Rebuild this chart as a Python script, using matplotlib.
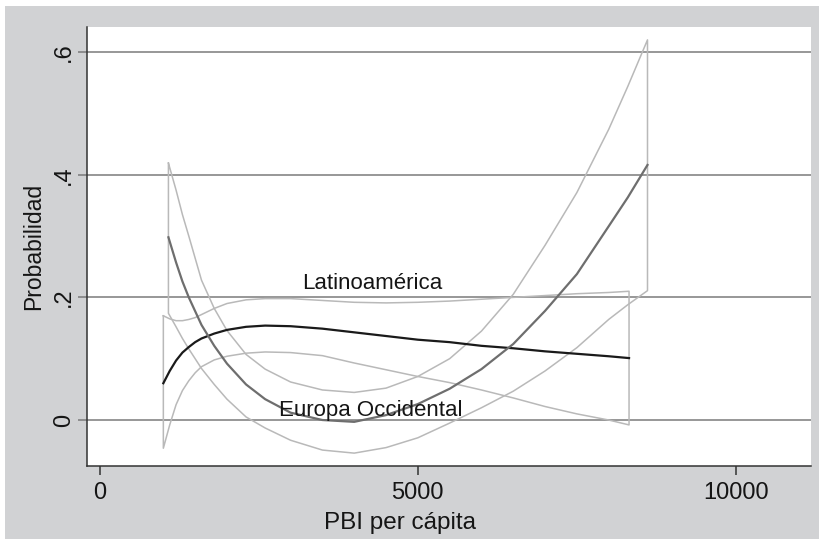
import matplotlib
matplotlib.use("Agg")
import matplotlib.pyplot as plt
from matplotlib.patches import Rectangle

plt.rcParams['font.family'] = ['Liberation Sans', 'DejaVu Sans']

# Latinoamérica: predicted probability and confidence bounds
x_lat = [1000, 1100, 1200, 1300, 1400, 1500, 1600, 1800, 2000, 2300, 2600, 3000,
         3500, 4000, 4500, 5000, 5500, 6000, 6500, 7000, 7500, 8000, 8320]
lat_mid = [0.060, 0.080, 0.097, 0.110, 0.119, 0.127, 0.133, 0.141, 0.147, 0.152, 0.154, 0.153,
           0.149, 0.143, 0.137, 0.131, 0.127, 0.121, 0.117, 0.112, 0.108, 0.104, 0.101]
lat_hi = [0.170, 0.165, 0.162, 0.162, 0.164, 0.167, 0.172, 0.182, 0.190, 0.196, 0.198, 0.198,
          0.195, 0.192, 0.191, 0.192, 0.194, 0.197, 0.200, 0.203, 0.206, 0.208, 0.210]
lat_lo = [-0.046, -0.008, 0.025, 0.048, 0.064, 0.077, 0.087, 0.098, 0.104, 0.109, 0.111, 0.110,
          0.105, 0.093, 0.082, 0.071, 0.061, 0.049, 0.036, 0.022, 0.010, 0.000, -0.008]

# Europa Occidental
x_eu = [1080, 1200, 1300, 1400, 1600, 1800, 2000, 2300, 2600, 3000, 3500,
        4000, 4500, 5000, 5500, 6000, 6500, 7000, 7500, 8000, 8300, 8610]
eu_mid = [0.298, 0.257, 0.226, 0.200, 0.155, 0.121, 0.092, 0.058, 0.034, 0.012, 0.000,
          -0.003, 0.008, 0.026, 0.051, 0.083, 0.124, 0.178, 0.238, 0.316, 0.363, 0.416]
eu_hi = [0.419, 0.375, 0.335, 0.300, 0.228, 0.182, 0.146, 0.107, 0.083, 0.062, 0.049,
         0.045, 0.052, 0.071, 0.100, 0.145, 0.205, 0.285, 0.371, 0.474, 0.544, 0.620]
eu_lo = [0.174, 0.152, 0.133, 0.116, 0.084, 0.058, 0.034, 0.005, -0.013, -0.033, -0.049,
         -0.054, -0.045, -0.029, -0.005, 0.020, 0.047, 0.080, 0.118, 0.164, 0.188, 0.211]

yticks = [0, 0.2, 0.4, 0.6]
ytick_labels = ["0", ".2", ".4", ".6"]
xticks = [0, 5000, 10000]

bg = '#d1d2d4'
ci_col = '#b9b9b9'
txt = '#151515'

fig = plt.figure(figsize=(8.2, 5.39), dpi=100, facecolor='white')
fig.patches.append(Rectangle((5 / 820, 0), 1, 1 - 6 / 539, transform=fig.transFigure,
                             facecolor=bg, edgecolor='none', zorder=-1))
ax = fig.add_axes([87 / 820, 1 - 466 / 539, (811 - 87) / 820, (466 - 27) / 539])
ax.set_facecolor('white')

for y in yticks:
    ax.axhline(y, color='#7a7a7a', lw=1.1, zorder=1)


def band(ax, xs, lo, hi):
    # outline of the confidence area, closed at both ends
    bx = list(xs) + list(xs[::-1]) + [xs[0]]
    by = list(hi) + list(lo[::-1]) + [hi[0]]
    ax.plot(bx, by, color=ci_col, lw=1.1, zorder=2)


band(ax, x_lat, lat_lo, lat_hi)
band(ax, x_eu, eu_lo, eu_hi)
ax.plot(x_lat, lat_mid, color='#1a1a1a', lw=1.6, zorder=3)
ax.plot(x_eu, eu_mid, color='#6e6e6e', lw=1.6, zorder=3)

ax.text(4287, 0.223, "Latinoamérica", ha='center', va='center', fontsize=16, color=txt)
ax.text(4255, 0.016, "Europa Occidental", ha='center', va='center', fontsize=16, color=txt)

ax.set_xlim(-200, 11180)
ax.set_ylim(-0.075, 0.641)
ax.set_xticks(xticks)
ax.set_xticklabels([str(t) for t in xticks])
ax.set_yticks(yticks)
ax.set_yticklabels(ytick_labels, rotation=90, va='center')
ax.tick_params(axis='both', labelsize=17, colors=txt, width=1.1, length=6.5)
ax.tick_params(axis='x', pad=5, color='#333333')
ax.tick_params(axis='y', pad=2, color='#7a7a7a')

for s in ['top', 'right']:
    ax.spines[s].set_visible(False)
for s in ['left', 'bottom']:
    ax.spines[s].set_color('#333333')
    ax.spines[s].set_linewidth(1.1)

ax.set_ylabel("Probabilidad", fontsize=16.5, color=txt, labelpad=6)
# the x title sits a bit left of the plot centre in the original
fig.text(400 / 820, 1 - 523 / 539, "PBI per cápita", ha='center', va='center',
         fontsize=17.5, color=txt)

fig.savefig("out.png", dpi=100, facecolor=fig.get_facecolor())
